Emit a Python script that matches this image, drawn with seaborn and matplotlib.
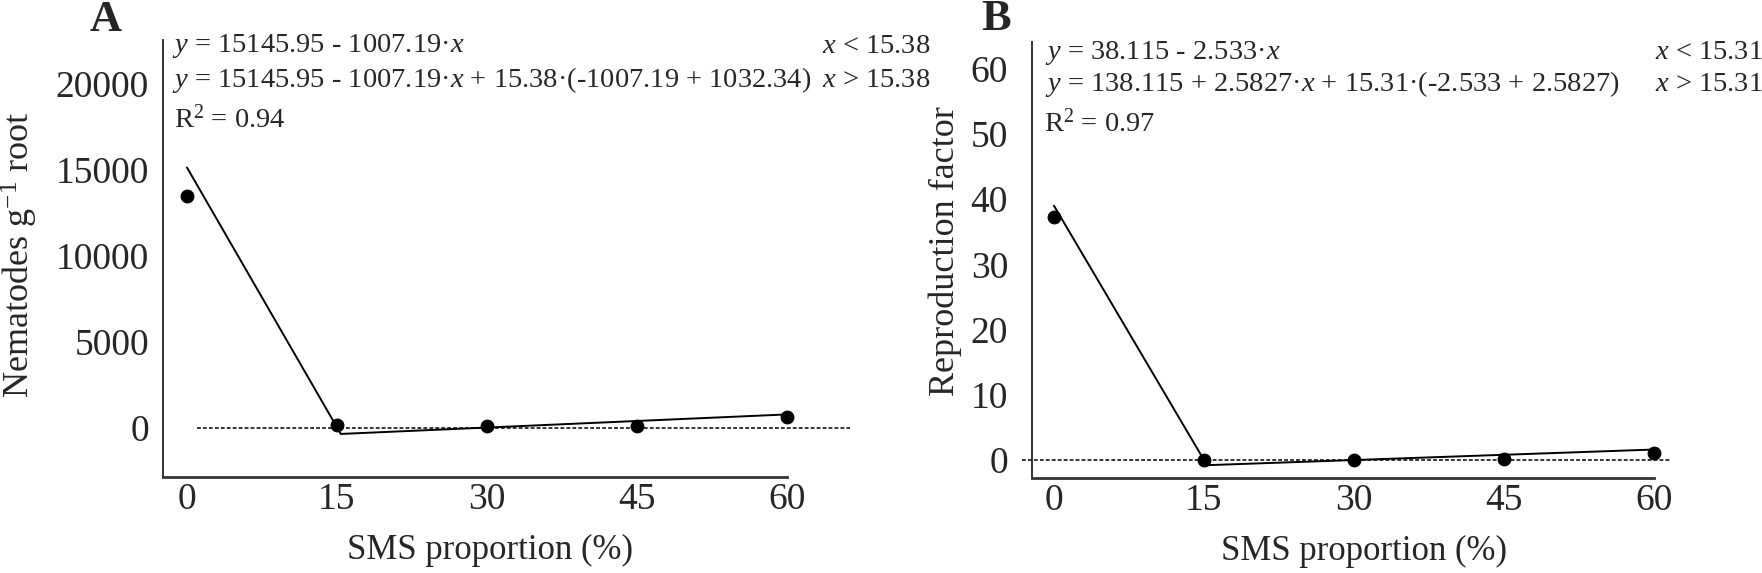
import matplotlib
matplotlib.use("Agg")
import matplotlib.pyplot as plt
import seaborn as sns

# observed means
sms = [0, 15, 30, 45, 60]
nematodes = [13500, 170, 100, 130, 620]
repro = [37.3, 0.0, 0.05, 0.15, 1.1]

# segmented regression lines (vertices)
fit_x_a = [0, 15.38, 60]
fit_y_a = [15146, -345, 790]
fit_x_b = [0, 15.31, 60]
fit_y_b = [39.0, -0.8, 1.6]

xticks = [0, 15, 30, 45, 60]
yticks_a = [0, 5000, 10000, 15000, 20000]
yticks_b = [0, 10, 20, 30, 40, 50, 60]

eq_a = [r"$y$ = 15145.95 - 1007.19·$x$",
        r"$y$ = 15145.95 - 1007.19·$x$ + 15.38·(-1007.19 + 1032.34)"]
cond_a = [r"$x$ < 15.38", r"$x$ > 15.38"]
r2_a = r"R$^2$ = 0.94"
eq_b = [r"$y$ = 38.115 - 2.533·$x$",
        r"$y$ = 138.115 + 2.5827·$x$ + 15.31·(-2.533 + 2.5827)"]
cond_b = [r"$x$ < 15.31", r"$x$ > 15.31"]
r2_b = r"R$^2$ = 0.97"

sns.set_style("white")
plt.rcParams['font.family'] = ['Liberation Serif', 'DejaVu Serif']
plt.rcParams['mathtext.fontset'] = 'custom'
plt.rcParams['mathtext.rm'] = 'Liberation Serif'
plt.rcParams['mathtext.it'] = 'Liberation Serif:italic'

fig = plt.figure(figsize=(17.62, 5.73), dpi=100)
ax_a = fig.add_axes([0.0925, 0.1675, 0.3939, 0.7627])
ax_b = fig.add_axes([0.5855, 0.1653, 0.3645, 0.7619])


def style_axes(ax, xlim, ylim, yticks, ypad):
    ax.set_xlim(*xlim)
    ax.set_ylim(*ylim)
    ax.set_xticks(xticks)
    ax.set_yticks(yticks)
    ax.tick_params(axis='both', length=0, labelsize=27)
    ax.tick_params(axis='y', pad=ypad)
    ax.tick_params(axis='x', pad=4)
    for s in ['top', 'right']:
        ax.spines[s].set_visible(False)
    ax.spines['left'].set_color('#222222')
    ax.spines['left'].set_linewidth(1.3)
    ax.spines['bottom'].set_color('#333333')
    ax.spines['bottom'].set_linewidth(2.0)
    ax.spines['bottom'].set_bounds(xlim[0], 60)


def draw(ax, y, fx, fy, zspan):
    ax.hlines(0, zspan[0], zspan[1], colors='black', lw=1.1,
              linestyles=(0, (2.5, 1.4)), clip_on=False, zorder=1)
    sns.lineplot(x=fx, y=fy, ax=ax, color='black', lw=1.4, sort=False,
                 estimator=None, zorder=2)
    sns.scatterplot(x=sms, y=y, ax=ax, color='black', s=85,
                    edgecolor='black', zorder=3)


draw(ax_a, nematodes, fit_x_a, fit_y_a, (1.0, 66.3))
draw(ax_b, repro, fit_x_b, fit_y_b, (-3.2, 61.7))

style_axes(ax_a, (-2.4, 67), (-2850, 22560), yticks_a, 10)
style_axes(ax_b, (-2.23, 62), (-2.81, 64.15), yticks_b, 17)

ax_a.set_xlabel("SMS proportion (%)", fontsize=25)
ax_a.xaxis.set_label_coords(0.471, -0.13)
ax_b.set_xlabel("SMS proportion (%)", fontsize=25)
ax_b.xaxis.set_label_coords(0.517, -0.13)
ax_a.set_ylabel(r"Nematodes g$^{-1}$ root", fontsize=26)
ax_a.yaxis.set_label_coords(-0.177, 0.508)
ax_b.set_ylabel("Reproduction factor", fontsize=26)
ax_b.yaxis.set_label_coords(-0.1085, 0.521)

eq_kw = dict(fontsize=20.5, va='center', ha='left', clip_on=False)
ax_a.text(0.013, 0.986, eq_a[0], transform=ax_a.transAxes, **eq_kw)
ax_a.text(0.013, 0.908, eq_a[1], transform=ax_a.transAxes, **eq_kw)
ax_a.text(0.016, 0.819, r2_a, transform=ax_a.transAxes, **eq_kw)
ax_a.text(0.9496, 0.986, cond_a[0], transform=ax_a.transAxes, **eq_kw)
ax_a.text(0.9496, 0.908, cond_a[1], transform=ax_a.transAxes, **eq_kw)

ax_b.text(0.0215, 0.974, eq_b[0], transform=ax_b.transAxes, **eq_kw)
ax_b.text(0.0215, 0.903, eq_b[1], transform=ax_b.transAxes, **eq_kw)
ax_b.text(0.019, 0.814, r2_b, transform=ax_b.transAxes, **eq_kw)
ax_b.text(0.970, 0.976, cond_b[0], transform=ax_b.transAxes, **eq_kw)
ax_b.text(0.970, 0.901, cond_b[1], transform=ax_b.transAxes, **eq_kw)

fig.text(106 / 1762, 1 - 20 / 573, "A", fontsize=32, fontweight='bold',
         ha='center', va='center')
fig.text(996 / 1762, 1 - 19 / 573, "B", fontsize=32, fontweight='bold',
         ha='center', va='center')

fig.savefig("out.png", dpi=100)
plt.close(fig)
